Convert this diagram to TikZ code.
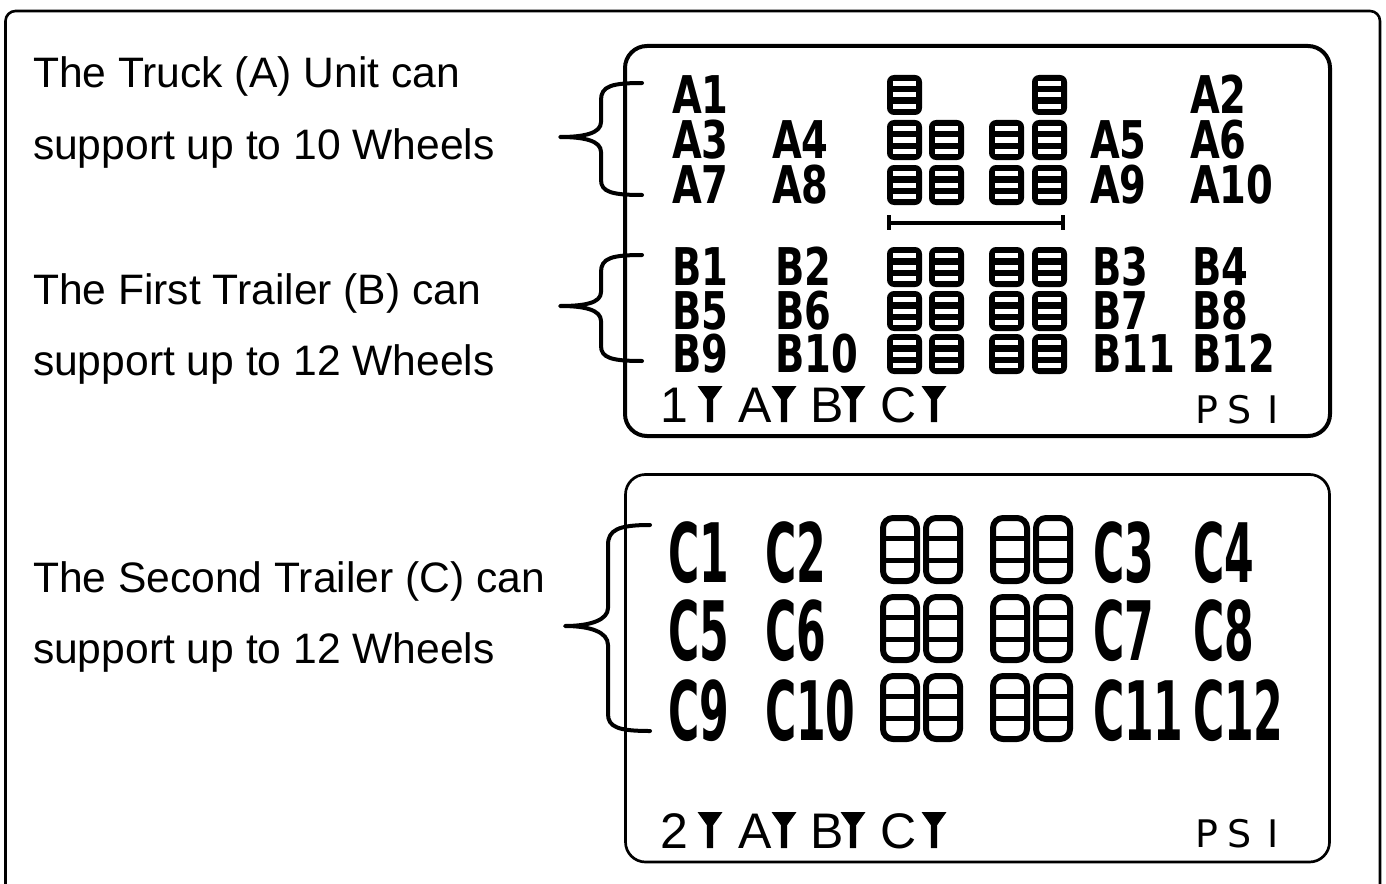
\documentclass[tikz,border=0pt]{standalone}
\usepackage{fontspec}
\setmainfont{Liberation Sans}
\newfontfamily\lcdfont{DejaVu Sans}
\newcommand{\tagAB}[1]{\scalebox{0.74}[1]{#1}}
\newcommand{\tagCC}[1]{\scalebox{0.52}[1]{#1}}
\newcommand{\solidwheel}[2]{%
  \fill[rounded corners=3.5pt] (#1,#2) rectangle ++(35,40);
  \fill[white] (#1+6,#2+6) rectangle ++(23,5);
  \fill[white] (#1+6,#2+17.5) rectangle ++(23,5);
  \fill[white] (#1+6,#2+29) rectangle ++(23,5);
}
\newcommand{\openwheel}[2]{%
  \draw[line width=3pt, rounded corners=5pt] (#1+3,#2+3) rectangle (#1+37,#2+66);
  \draw[line width=2.6pt] (#1+3,#2+23.5) -- (#1+37,#2+23.5) (#1+3,#2+45.5) -- (#1+37,#2+45.5);
}
\newcommand{\funnel}[2]{\fill (#1-12.5,#2-36) -- (#1+12.5,#2-36) -- (#1+3.2,#2-23) -- (#1+3.2,#2) -- (#1-3.2,#2) -- (#1-3.2,#2-23) -- cycle;}
\begin{document}
\begin{tikzpicture}[x=0.5pt,y=-0.5pt,line join=round]
\tikzset{
  lbl/.style={anchor=base west,inner sep=0pt,outer sep=0pt,font=\fontsize{21.3}{25}\selectfont},
  tagab/.style={anchor=base west,inner sep=0pt,outer sep=0pt,text height=19pt,text depth=0pt,font=\lcdfont\bfseries\fontsize{26}{26}\selectfont},
  tagc/.style={anchor=base west,inner sep=0pt,outer sep=0pt,text height=30pt,text depth=0pt,font=\lcdfont\bfseries\fontsize{41}{41}\selectfont},
  stat/.style={anchor=base west,inner sep=0pt,outer sep=0pt,font=\fontsize{25}{25}\selectfont},
  psi/.style={anchor=base west,inner sep=0pt,outer sep=0pt,font=\lcdfont\fontsize{19}{19}\selectfont},
  brace/.style={line width=2pt,line cap=round},
}
\useasboundingbox (0,0) rectangle (1386,883);
% outer frame
\draw[line width=1.3pt,rounded corners=5pt] (5.5,920) -- (5.5,11) -- (1380,11) -- (1380,920);
% boxes
\draw[line width=2pt,rounded corners=11pt] (625,46) rectangle (1330,436);
\draw[line width=1.35pt,rounded corners=10pt] (625.5,474.5) rectangle (1329.5,862);

% left texts
\node[lbl] (t1) at (33,88) {The Truck (A) Unit can};
\node[lbl] (t2) at (33,160) {support up to 10 Wheels};
\node[lbl] (t3) at (33,304) {The First Trailer (B) can};
\node[lbl] (t4) at (33,375) {support up to 12 Wheels};
\node[lbl] (t5) at (33,592) {The Second Trailer (C) can};
\node[lbl] (t6) at (33,663) {support up to 12 Wheels};

% braces
\draw[brace] (642,83) .. controls (612,83) and (601,86) .. (601,100) -- (601,122)
  .. controls (601,133) and (585,137) .. (560,137)
  .. controls (585,137) and (601,141) .. (601,152) -- (601,180)
  .. controls (601,192) and (612,195) .. (642,195);
\draw[brace] (642,255) .. controls (612,255) and (601,258) .. (601,272) -- (601,292)
  .. controls (601,303) and (585,306) .. (560,306)
  .. controls (585,306) and (601,310) .. (601,321) -- (601,346)
  .. controls (601,358) and (612,361) .. (642,361);
\draw[brace] (650,525) .. controls (618,525) and (608,530) .. (608,545) -- (608,608)
  .. controls (608,620) and (590,626) .. (565,626)
  .. controls (590,626) and (608,632) .. (608,645) -- (608,714)
  .. controls (608,727) and (618,731) .. (650,731);

% A labels
\node[tagab] (a1) at (672,113) {\tagAB{A1}};
\node[tagab] (a2) at (1190,113) {\tagAB{A2}};
\node[tagab] (a3) at (672,158) {\tagAB{A3}};
\node[tagab] (a4) at (772,158) {\tagAB{A4}};
\node[tagab] (a5) at (1090,158) {\tagAB{A5}};
\node[tagab] (a6) at (1190,158) {\tagAB{A6}};
\node[tagab] (a7) at (672,203) {\tagAB{A7}};
\node[tagab] (a8) at (772,203) {\tagAB{A8}};
\node[tagab] (a9) at (1090,203) {\tagAB{A9}};
\node[tagab] (a10) at (1190,203) {\tagAB{A10}};
% A wheels
\solidwheel{887}{75}
\solidwheel{1032}{75}
\foreach \yy in {120,165} {
  \foreach \xx in {887,929,989,1032} { \solidwheel{\xx}{\yy} }
}
% axle
\draw[line width=2.2pt] (889,223) -- (1063,223);
\draw[line width=2.4pt] (889,215) -- (889,230) (1063,215) -- (1063,230);

% B labels
\node[tagab] (b1) at (672,285) {\tagAB{B1}};
\node[tagab] (b2) at (775,285) {\tagAB{B2}};
\node[tagab] (b3) at (1092,285) {\tagAB{B3}};
\node[tagab] (b4) at (1192,285) {\tagAB{B4}};
\node[tagab] (b5) at (672,329) {\tagAB{B5}};
\node[tagab] (b6) at (775,329) {\tagAB{B6}};
\node[tagab] (b7) at (1092,329) {\tagAB{B7}};
\node[tagab] (b8) at (1192,329) {\tagAB{B8}};
\node[tagab] (b9) at (672,372) {\tagAB{B9}};
\node[tagab] (b10) at (775,372) {\tagAB{B10}};
\node[tagab] (b11) at (1092,372) {\tagAB{B11}};
\node[tagab] (b12) at (1192,372) {\tagAB{B12}};
\foreach \yy in {247,291,334} {
  \foreach \xx in {887,929,989,1032} { \solidwheel{\xx}{\yy} }
}

% status row 1
\node[stat] (s1) at (660,422) {1};
\funnel{710}{422}
\node[stat] (s1a) at (738,422) {A};
\funnel{784}{422}
\node[stat] (s1b) at (810,422) {B};
\funnel{853}{422}
\node[stat] (s1c) at (880,422) {C};
\funnel{934}{422}
\node[psi] (p1) at (1195,423) {P};
\node[psi] (p1s) at (1227,423) {S};
\node[psi] (p1i) at (1267,423) {I};

% C labels
\node[tagc] (c1) at (668,582) {\tagCC{C1}};
\node[tagc] (c2) at (765,582) {\tagCC{C2}};
\node[tagc] (c3) at (1093,582) {\tagCC{C3}};
\node[tagc] (c4) at (1193,582) {\tagCC{C4}};
\node[tagc] (c5) at (668,660) {\tagCC{C5}};
\node[tagc] (c6) at (765,660) {\tagCC{C6}};
\node[tagc] (c7) at (1093,660) {\tagCC{C7}};
\node[tagc] (c8) at (1193,660) {\tagCC{C8}};
\node[tagc] (c9) at (668,740) {\tagCC{C9}};
\node[tagc] (c10) at (765,740) {\tagCC{C10}};
\node[tagc] (c11) at (1093,740) {\tagCC{C11}};
\node[tagc] (c12) at (1193,740) {\tagCC{C12}};
\foreach \yy in {515,594,673} {
  \foreach \xx in {880,923,990,1033} { \openwheel{\xx}{\yy} }
}

% status row 2
\node[stat] (s2) at (660,848) {2};
\funnel{710}{848}
\node[stat] (s2a) at (738,848) {A};
\funnel{784}{848}
\node[stat] (s2b) at (810,848) {B};
\funnel{853}{848}
\node[stat] (s2c) at (880,848) {C};
\funnel{934}{848}
\node[psi] (p2) at (1195,847) {P};
\node[psi] (p2s) at (1227,847) {S};
\node[psi] (p2i) at (1267,847) {I};
\end{tikzpicture}
\end{document}
